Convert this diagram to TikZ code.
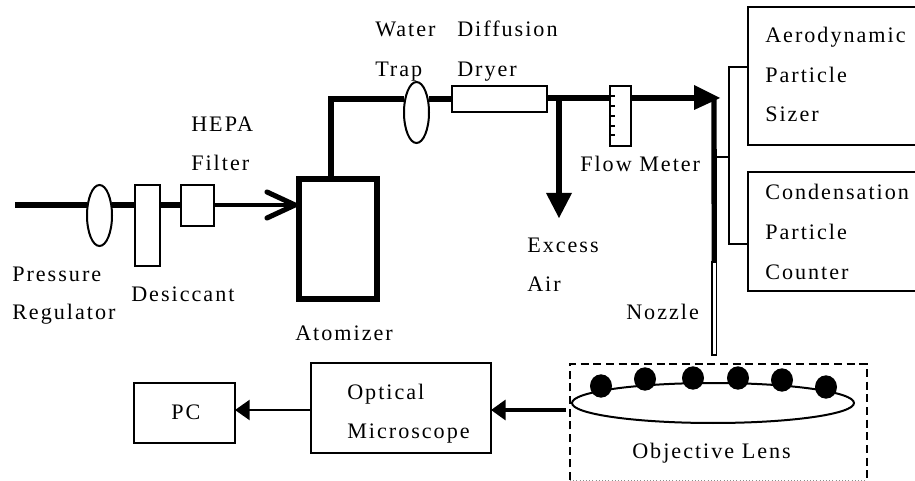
\documentclass[tikz,border=0pt]{standalone}
\usepackage{fontspec}
\setmainfont[LetterSpace=9]{Liberation Serif}
\usetikzlibrary{shapes.geometric,arrows.meta}
\newcommand{\bx}[6]{%
  \pgfmathsetmacro{\bw}{(#4-#2)*.75}\pgfmathsetmacro{\bh}{(#5-#3)*.75}%
  \node[#6,minimum width=\bw pt,minimum height=\bh pt] (#1) at ({(#2+#4)/2},{(#3+#5)/2}) {};}
\tikzset{
  x=.75pt,y=-.75pt,
  shp/.style={draw,inner sep=0pt,outer sep=0pt,line width=1.5pt,fill=white},
  thin box/.style={shp,rectangle,line width=1.2pt},
  fat box/.style={shp,rectangle,line width=3.8pt},
  oval/.style={shp,ellipse},
  dot/.style={draw=none,fill=black,ellipse,inner sep=0pt,outer sep=0pt},
  lbl/.style={anchor=base west,inner sep=0pt,font=\fontsize{16.6}{19}\selectfont},
  main/.style={line width=4pt},
  mid/.style={line width=3.2pt},
  wire/.style={line width=1.1pt},
}
\begin{document}
\begin{tikzpicture}
\useasboundingbox (0,0) rectangle (915,481);
\clip (0,0) rectangle (915,481);
% main components
\bx{reg}{87}{185}{112}{246}{oval}
\bx{des}{135}{185}{160}{266}{thin box}
\bx{filt}{181}{185}{214}{226}{thin box}
\bx{atom}{299}{179}{377}{299}{fat box}
\bx{trap}{404}{82}{429}{143}{oval}
\bx{dry}{452}{86}{547}{112}{thin box}
\bx{fm}{610}{86}{631}{146}{thin box}
\bx{aps}{748}{7}{925}{145}{thin box}
\bx{cpc}{748}{172}{925}{291}{thin box}
\bx{noz}{712}{262}{716.5}{355}{thin box}
\bx{opt}{311}{363}{491}{453}{thin box}
\bx{pcbox}{134}{383}{235}{443}{thin box}
\bx{lens}{572}{383}{854}{423}{oval}
% coordinates
\coordinate (in0) at (15,205);
\coordinate (ln) at (0,98);
\coordinate (jct) at (714,98);
\coordinate (exc) at (559,98);
\coordinate (excend) at (559,218);
\coordinate (tip) at (720,98);
\coordinate (atomtop) at (331,179);
\coordinate (corner) at (331,99);
\coordinate (tap) at (714,157);
\coordinate (bus) at (729,157);
\coordinate (busa) at (729,67);
\coordinate (busb) at (729,244);
\coordinate (aimy) at (0,410);
\coordinate (lensout) at (566,410);
% thick line
\draw[main] (in0) -- (in0 -| reg.west);
\draw[main] (in0 -| reg.east) -- (in0 -| des.west);
\draw[main] (in0 -| des.east) -- (in0 -| filt.west);
\draw[mid] (in0 -| filt.east) -- (in0 -| atom.west);
\draw[line width=3.8pt,line cap=round,line join=miter] (267,192) -- (295,205) -- (267,218);
\draw[main] (atomtop) -- (corner) -- (corner -| trap.west);
\draw[main] (corner -| trap.east) -- (corner -| dry.west);
\draw[main] (ln -| dry.east) -- (ln -| fm.west);
\draw[main] (ln -| fm.east) -- (700,98);
\fill (694,85) -- (tip) -- (694,110) -- cycle;
\draw[main] (exc) -- (559,195);
\fill (546,193) -- (excend) -- (572,193) -- cycle;
\draw[line width=4pt] (jct) -- (noz.north);
% flow meter ticks
\foreach \ty in {96,106,116,126,135}
  \draw[wire] (610,\ty) -- (615,\ty);
% sampling wires
\draw[wire] (tap) -- (bus);
\draw[wire] (busa -| aps.west) -- (busa) -- (busb) -- (busb -| cpc.west);
% dashed enclosure
\draw[line width=1.3pt,dash pattern=on 6pt off 3.5pt] (570,480) -- (570,364) -- (867,364) -- (867,480);
\draw[line width=.4pt,black!45,dotted] (570,480) -- (867,480);
% particles
\foreach \n/\px/\py in {a/601/386,b/645/379,c/693/378,d/738/378,e/782/380,f/826/387}
  \node[dot,minimum width=16.5pt,minimum height=17.5pt] (part\n) at (\px,\py) {};
% bottom arrows
\draw[line width=2.6pt,-{Triangle[length=11pt,width=15pt]}] (lensout) -- (opt.east |- aimy);
\draw[line width=1.8pt,-{Triangle[length=11pt,width=15pt]}] (opt.west |- aimy) -- (pcbox.east |- aimy);
% labels
\node[lbl] (t1) at (12,282) {Pressure};
\node[lbl] (t2) at (12,320) {Regulator};
\node[lbl] (t3) at (131,301) {Desiccant};
\node[lbl] (t4) at (191,132) {HEPA};
\node[lbl] (t5) at (191,171) {Filter};
\node[lbl] (t6) at (295,340) {Atomizer};
\node[lbl] (t7) at (375,37) {Water};
\node[lbl] (t8) at (375,77) {Trap};
\node[lbl] (t9) at (457,37) {Diffusion};
\node[lbl] (t10) at (457,77) {Dryer};
\node[lbl] (t11) at (580,172) {Flow Meter};
\node[lbl] (t12) at (527,253) {Excess};
\node[lbl] (t13) at (527,292) {Air};
\node[lbl] (t14) at (765,43) {Aerodynamic};
\node[lbl] (t15) at (765,83) {Particle};
\node[lbl] (t16) at (765,122) {Sizer};
\node[lbl] (t17) at (765,200) {Condensation};
\node[lbl] (t18) at (765,240) {Particle};
\node[lbl] (t19) at (765,280) {Counter};
\node[lbl] (t20) at (626,320) {Nozzle};
\node[lbl] (t21) at (347,399) {Optical};
\node[lbl] (t22) at (347,438) {Microscope};
\node[lbl] (t23) at (171,419) {PC};
\node[lbl] (t24) at (632,458) {Objective Lens};
\end{tikzpicture}
\end{document}
